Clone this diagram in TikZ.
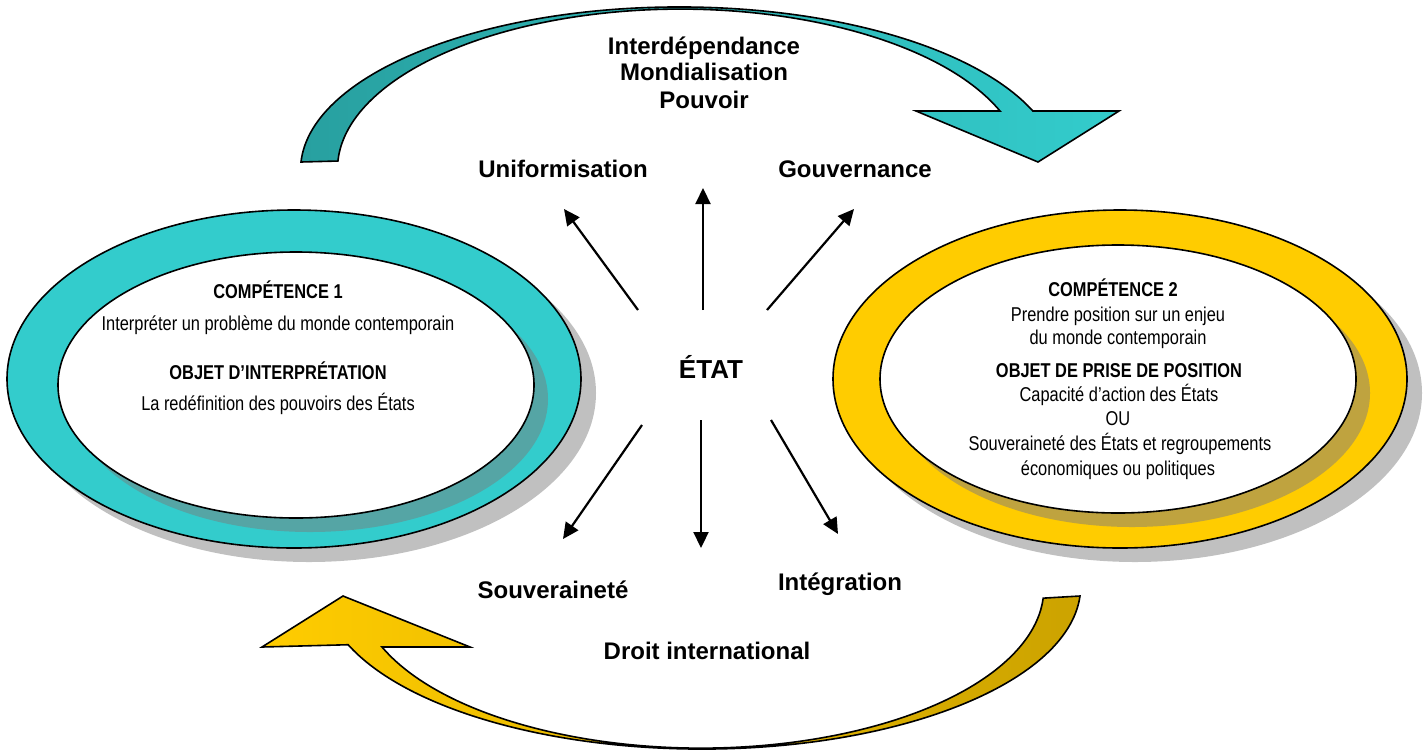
\documentclass[tikz,border=0pt]{standalone}
\usepackage{fontspec}
\setmainfont{Liberation Sans}
\newfontfamily\narrowfont[FakeStretch=0.82]{Liberation Sans}
\usetikzlibrary{arrows.meta}

\definecolor{tealA}{RGB}{51,204,204}
\definecolor{tealB}{RGB}{40,160,160}
\definecolor{tealS}{RGB}{85,165,165}
\definecolor{goldA}{RGB}{255,204,0}
\definecolor{goldB}{RGB}{204,163,0}
\definecolor{goldS}{RGB}{191,163,63}
\definecolor{shadowgray}{RGB}{192,192,192}

\begin{document}
\begin{tikzpicture}[x=1pt,y=1pt,
  lbl/.style={anchor=base,font=\bfseries\fontsize{24}{28}\selectfont},
  head/.style={anchor=base,font=\narrowfont\bfseries\fontsize{20}{24}\selectfont},
  body/.style={anchor=base,font=\narrowfont\fontsize{20}{24}\selectfont},
  ray/.style={line width=2.2pt,-{Triangle[length=16pt,width=15pt]}},
  outline/.style={draw=black,line width=1.6pt}]
  \useasboundingbox (0,0) rectangle (1426,-753);

  % Ellipse gauche (compétence 1)
  \fill[shadowgray] (309,-393) ellipse[x radius=287pt,y radius=169pt];
  \filldraw[fill=tealA,outline] (294,-379) ellipse[x radius=287pt,y radius=169pt];
  \fill[tealS] (310,-399) ellipse[x radius=238pt,y radius=133pt];
  \filldraw[fill=white,outline] (296,-385) ellipse[x radius=238pt,y radius=133pt];

  % Ellipse droite (compétence 2)
  \fill[shadowgray] (1135,-393) ellipse[x radius=287pt,y radius=169pt];
  \filldraw[fill=goldA,outline] (1120,-379) ellipse[x radius=287pt,y radius=169pt];
  \fill[goldS] (1132,-393) ellipse[x radius=238pt,y radius=134pt];
  \filldraw[fill=white,outline] (1118,-379) ellipse[x radius=238pt,y radius=134pt];

  % Flèche courbe du haut
  \draw[outline,left color=tealB,middle color=tealA,right color=tealA]
    (301,-162) arc[start angle=177.2,end angle=21.2,x radius=379pt,y radius=163pt]
    -- (1119,-111) -- (1038,-162) -- (916,-111) -- (1000,-111)
    arc[start angle=21.3,end angle=177.1,x radius=343pt,y radius=160pt] -- cycle;

  % Flèche courbe du bas
  \draw[outline,left color=goldA,middle color=goldA,right color=goldB]
    (1080,-596) arc[start angle=-3.5,end angle=-158.9,x radius=379pt,y radius=163pt]
    -- (262,-647) -- (343,-596) -- (470,-647) -- (382,-647)
    arc[start angle=-158.4,end angle=-3.6,x radius=343pt,y radius=160pt] -- cycle;

  % Centre
  \node[anchor=base,font=\bfseries\fontsize{26}{30}\selectfont] (etat) at (711,-378) {ÉTAT};

  % Flèches du centre
  \coordinate (nS) at (703,-310); \coordinate (nE) at (703,-188);
  \coordinate (nwS) at (638,-310); \coordinate (nwE) at (564,-209);
  \coordinate (neS) at (767,-310); \coordinate (neE) at (854,-209);
  \coordinate (sS) at (701,-420); \coordinate (sE) at (701,-548);
  \coordinate (swS) at (642,-425); \coordinate (swE) at (563,-539);
  \coordinate (seS) at (771,-420); \coordinate (seE) at (838,-534);
  \draw[ray] (nS) -- (nE);
  \draw[ray] (nwS) -- (nwE);
  \draw[ray] (neS) -- (neE);
  \draw[ray] (sS) -- (sE);
  \draw[ray] (swS) -- (swE);
  \draw[ray] (seS) -- (seE);

  % Étiquettes
  \node[lbl] (interd) at (704,-54) {Interdépendance};
  \node[lbl] (mondial) at (704,-80) {Mondialisation};
  \node[lbl] (pouvoir) at (704,-108) {Pouvoir};
  \node[lbl] (uniform) at (563,-177) {Uniformisation};
  \node[lbl] (gouv) at (855,-177) {Gouvernance};
  \node[lbl] (souv) at (553,-598) {Souveraineté};
  \node[lbl] (integ) at (840,-590) {Intégration};
  \node[lbl] (droit) at (707,-659) {Droit international};

  % Texte compétence 1
  \node[head] (comp1) at (278,-298) {COMPÉTENCE 1};
  \node[body] (comp1a) at (278,-330) {Interpréter un problème du monde contemporain};
  \node[head] (objet1) at (278,-379) {OBJET D’INTERPRÉTATION};
  \node[body] (objet1a) at (278,-410) {La redéfinition des pouvoirs des États};

  % Texte compétence 2
  \node[head] (comp2) at (1113,-296) {COMPÉTENCE 2};
  \node[body] (comp2a) at (1118,-321) {Prendre position sur un enjeu};
  \node[body] (comp2b) at (1118,-344) {du monde contemporain};
  \node[head] (objet2) at (1119,-377) {OBJET DE PRISE DE POSITION};
  \node[body] (objet2a) at (1119,-401) {Capacité d’action des États};
  \node[body] (objet2b) at (1118,-425) {OU};
  \node[body] (objet2c) at (1120,-450) {Souveraineté des États et regroupements};
  \node[body] (objet2d) at (1118,-475) {économiques ou politiques};
\end{tikzpicture}
\end{document}
